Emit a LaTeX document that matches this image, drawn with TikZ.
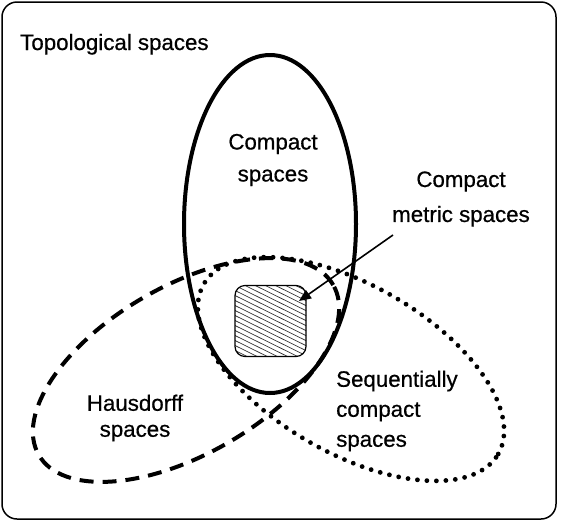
\documentclass[tikz,border=0pt]{standalone}
\usepackage{fontspec}
\setmainfont{Liberation Sans}[FakeBold=0.6]
\usetikzlibrary{arrows.meta}
\begin{document}
\begin{tikzpicture}[x=1pt,y=-1pt,
  lbl/.style={inner sep=0pt},
  fs/.style={font=\fontsize{22.3}{#1}\selectfont},
  solidring/.style={line width=4pt},
  dashring/.style={line width=4pt, dash pattern=on 14pt off 9pt},
  dotring/.style={line width=4.8pt, line cap=round, dash pattern=on 0pt off 9.5pt},
  framebox/.style={line width=1.5pt, rounded corners=15pt},
  hatchbox/.style={draw=black, line width=1.2pt, fill=white, rounded corners=10pt,
    minimum width=71pt, minimum height=71pt, inner sep=0pt,
    path picture={\foreach \k in {-40,-35,...,75}{\draw[line width=0.7pt, black!80]
      ([yshift=-\k pt]path picture bounding box.north west) -- ++(90,44.5);}}},
  pointer/.style={line width=1.6pt, -{Triangle[length=12pt,width=10pt]}}
]
\path[use as bounding box] (0,0) rectangle (562,523);
\draw[framebox] (2,2) rectangle (556,519);

% Hausdorff (dashed) and sequentially compact (dotted)
\draw[dashring, rotate around={30:(186,370)}] (186,370) ellipse [x radius=170pt, y radius=84pt];
\draw[dotring, rotate around={-30:(351,369)}] (351,369) ellipse [x radius=170pt, y radius=84pt];
% Compact (solid)
\draw[solidring] (270,224) ellipse [x radius=86pt, y radius=169pt];

% compact metric spaces
\node[hatchbox] (cmsbox) at (270.5,321) {};

\node[lbl, fs=30, anchor=base west] (topo) at (20,50) {Topological spaces};
\node[lbl, fs=32, align=center] (cpt) at (273,160) {Compact\\spaces};
\node[lbl, fs=35, align=center] (cmslbl) at (461,199) {Compact\\metric spaces};
\node[lbl, fs=26, align=center] (haus) at (135,418) {Hausdorff\\spaces};
\node[lbl, fs=30, align=left, anchor=west] (seq) at (336,411) {Sequentially\\compact\\spaces};

\coordinate (tail) at (393,235);
\coordinate (tip) at (299,301);
\draw[pointer] (tail) -- (tip);
\end{tikzpicture}
\end{document}
